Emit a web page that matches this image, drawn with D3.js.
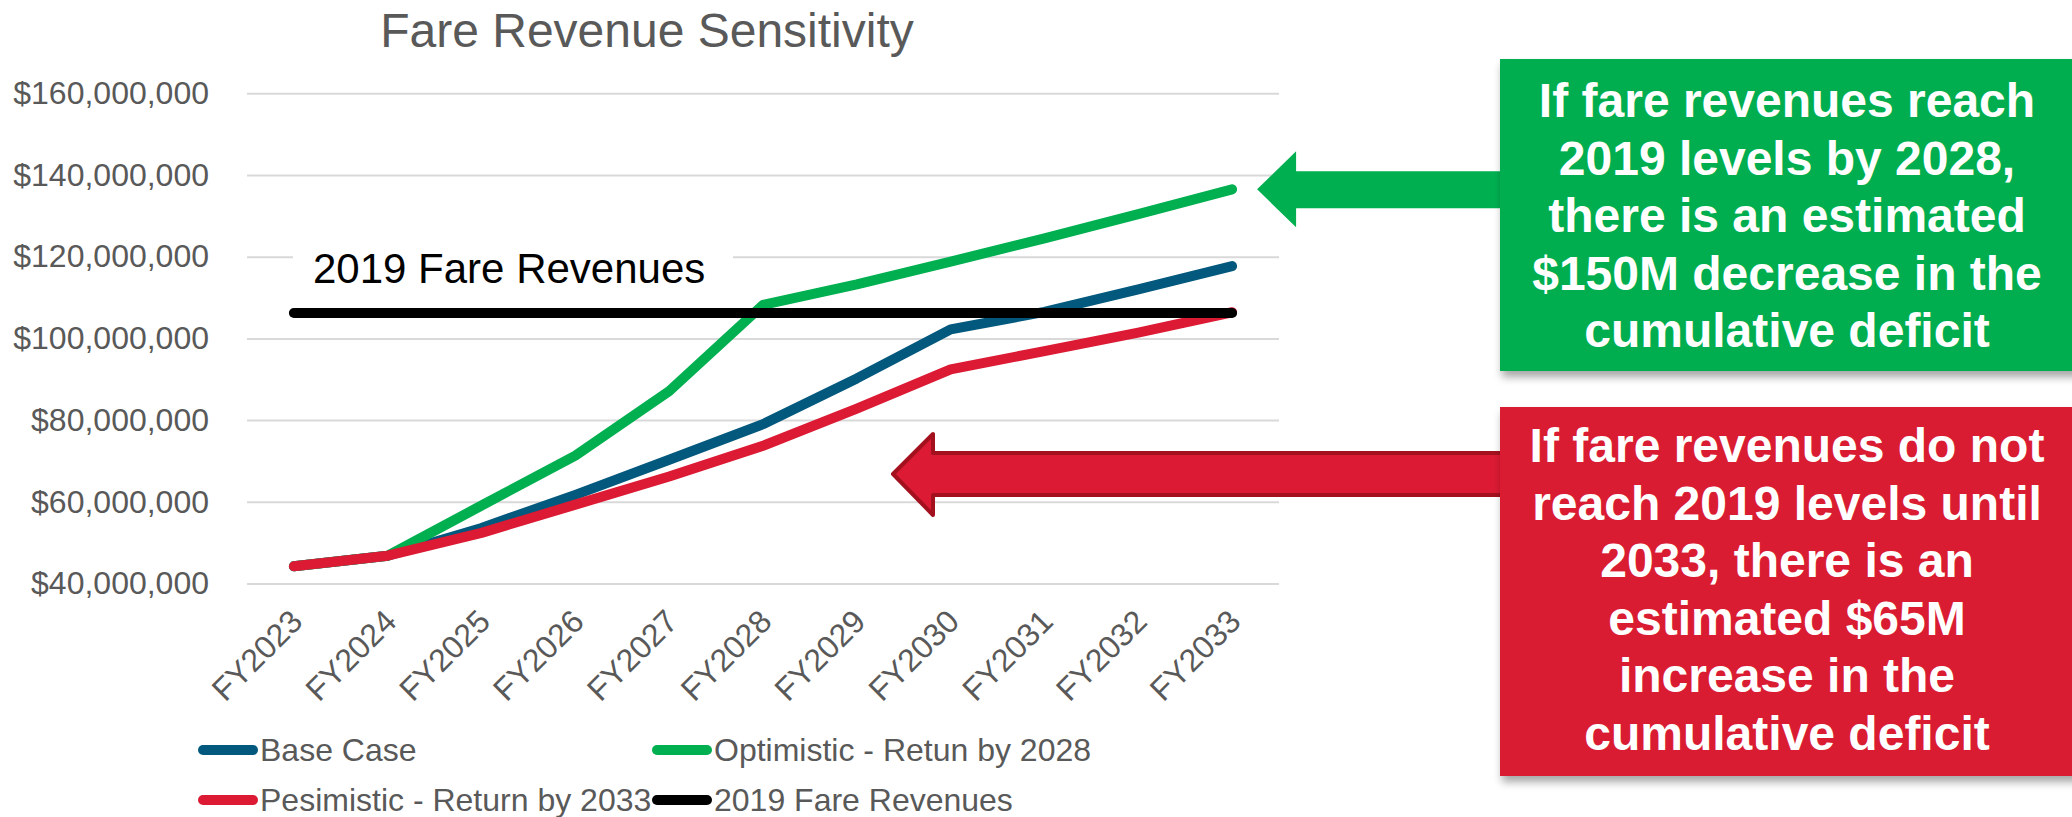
<!DOCTYPE html>
<html><head><meta charset="utf-8">
<script src="https://cdn.jsdelivr.net/npm/d3@7"></script>
<style>body{margin:0;background:#fff;overflow:hidden} svg{display:block}</style>
</head><body>
<svg id="chart" width="2072" height="817"></svg>
<script>
// ---- data ----
const categories = ["FY2023","FY2024","FY2025","FY2026","FY2027","FY2028","FY2029","FY2030","FY2031","FY2032","FY2033"];
const baseCase    = [44.2e6, 46.8e6, 53.6e6, 61.7e6, 70.3e6, 79.0e6, 90.2e6, 102.2e6, 106.5e6, 112.0e6, 117.7e6];
const optimistic  = [44.2e6, 46.8e6, 59.1e6, 71.3e6, 87.1e6, 108.2e6, 113.2e6, 118.8e6, 124.5e6, 130.4e6, 136.5e6];
const pessimistic = [44.2e6, 46.8e6, 52.4e6, 59.3e6, 66.2e6, 73.7e6, 82.8e6, 92.4e6, 96.9e6, 101.4e6, 106.4e6];
const fare2019    = [106.2e6, 106.2e6, 106.2e6, 106.2e6, 106.2e6, 106.2e6, 106.2e6, 106.2e6, 106.2e6, 106.2e6, 106.2e6];
const yTicks = [40e6, 60e6, 80e6, 100e6, 120e6, 140e6, 160e6];
const seriesNames = ["Base Case", "Optimistic - Retun by 2028", "Pesimistic - Return by 2033", "2019 Fare Revenues"];
const seriesColors = ["#02587D", "#00B050", "#DC1A34", "#000000"];
const chartTitle = "Fare Revenue Sensitivity";
const lineLabel = "2019 Fare Revenues";
const greenNote = ["If fare revenues reach", "2019 levels by 2028,", "there is an estimated", "$150M decrease in the", "cumulative deficit"];
const redNote = ["If fare revenues do not", "reach 2019 levels until", "2033, there is an", "estimated $65M", "increase in the", "cumulative deficit"];

const series = [baseCase, optimistic, pessimistic, fare2019];

// ---- layout ----
const svg = d3.select("#chart");
const font = "'Liberation Sans', Arial, sans-serif";
const plotL = 247, plotR = 1279, plotT = 93.3, plotB = 583.5;

const defs = svg.append("defs");
const f = defs.append("filter").attr("id", "shadow").attr("x", "-10%").attr("y", "-10%").attr("width", "130%").attr("height", "130%");
f.append("feDropShadow").attr("dx", 2).attr("dy", 6).attr("stdDeviation", 4)
  .attr("flood-color", "#000").attr("flood-opacity", 0.35);

const x = d3.scalePoint().domain(categories).range([plotL, plotR]).padding(0.5);
const y = d3.scaleLinear().domain([40e6, 160e6]).range([plotB, plotT]);

// title
svg.append("text").attr("x", 647).attr("y", 47).attr("text-anchor", "middle")
  .attr("font-family", font).attr("font-size", 48).attr("fill", "#595959").text(chartTitle);

// y axis with gridlines
const yAxis = svg.append("g").attr("transform", `translate(${plotL},0)`)
  .call(d3.axisLeft(y).tickValues(yTicks).tickSize(-(plotR - plotL)).tickPadding(38)
    .tickFormat(d => "$" + d3.format(",")(d)));
yAxis.select(".domain").remove();
yAxis.selectAll(".tick line").attr("stroke", "#d9d9d9").attr("stroke-width", 2);
yAxis.selectAll(".tick text").attr("font-family", font).attr("font-size", 32).attr("fill", "#595959");

// x axis labels
const xAxis = svg.append("g").attr("transform", `translate(0,${plotB})`)
  .call(d3.axisBottom(x).tickSize(0));
xAxis.select(".domain").remove();
xAxis.selectAll(".tick text")
  .attr("font-family", font).attr("font-size", 32).attr("fill", "#595959")
  .attr("text-anchor", "end").attr("x", 0).attr("y", 0).attr("dy", 0)
  .attr("transform", "translate(10,40) rotate(-45)");

// "2019 Fare Revenues" label with white background
svg.append("rect").attr("x", 293).attr("y", 240).attr("width", 440).attr("height", 55).attr("fill", "#fff");
svg.append("text").attr("x", 313).attr("y", 283).attr("font-family", font).attr("font-size", 42)
  .attr("fill", "#000").text(lineLabel);

// lines
const line = d3.line().x((d, i) => x(categories[i])).y(d => y(d));
svg.append("g").selectAll("path").data(series).join("path")
  .attr("d", line).attr("fill", "none")
  .attr("stroke", (d, i) => seriesColors[i]).attr("stroke-width", 10)
  .attr("stroke-linecap", "round").attr("stroke-linejoin", "round");

// legend
const legendPos = [[198, 750], [652, 750], [198, 800], [652, 800]];
const lg = svg.append("g").selectAll("g").data(seriesNames).join("g")
  .attr("transform", (d, i) => `translate(${legendPos[i][0]},${legendPos[i][1]})`);
lg.append("line").attr("x1", 5).attr("x2", 55).attr("y1", 0).attr("y2", 0)
  .attr("stroke", (d, i) => seriesColors[i]).attr("stroke-width", 10).attr("stroke-linecap", "round");
lg.append("text").attr("x", 62).attr("y", 0).attr("dy", "0.35em")
  .attr("font-family", font).attr("font-size", 32).attr("fill", "#595959").text(d => d);

// green arrow (tip at end of optimistic line)
const gy = y(optimistic[optimistic.length - 1]);
const gx = x(categories[categories.length - 1]) + 25;
svg.append("polygon").attr("fill", "#00B050")
  .attr("points", [[gx, gy], [gx + 39, gy - 38], [gx + 39, gy - 18], [1502, gy - 18], [1502, gy + 19], [gx + 39, gy + 19], [gx + 39, gy + 38]].join(" "));

// red arrow
const ry = 474, rx = 893;
svg.append("polygon").attr("fill", "#DC1A34").attr("stroke", "#A3111F").attr("stroke-width", 4)
  .attr("stroke-linejoin", "round")
  .attr("points", [[rx, ry], [rx + 40, ry - 40], [rx + 40, ry - 21], [1502, ry - 21], [1502, ry + 21], [rx + 40, ry + 21], [rx + 40, ry + 41]].join(" "));

// boxes
svg.append("rect").attr("x", 1500).attr("y", 59).attr("width", 600).attr("height", 312)
  .attr("fill", "#00AE4F").attr("filter", "url(#shadow)");
svg.append("rect").attr("x", 1500).attr("y", 407).attr("width", 600).attr("height", 369)
  .attr("fill", "#DA1A33").attr("filter", "url(#shadow)");

svg.append("g").selectAll("text").data(greenNote).join("text")
  .attr("x", 1787).attr("y", (d, i) => 117 + i * 57.5).attr("text-anchor", "middle")
  .attr("font-family", font).attr("font-weight", "bold").attr("font-size", 48).attr("fill", "#fff").text(d => d);
svg.append("g").selectAll("text").data(redNote).join("text")
  .attr("x", 1787).attr("y", (d, i) => 462 + i * 57.6).attr("text-anchor", "middle")
  .attr("font-family", font).attr("font-weight", "bold").attr("font-size", 48).attr("fill", "#fff").text(d => d);
</script>
</body></html>
